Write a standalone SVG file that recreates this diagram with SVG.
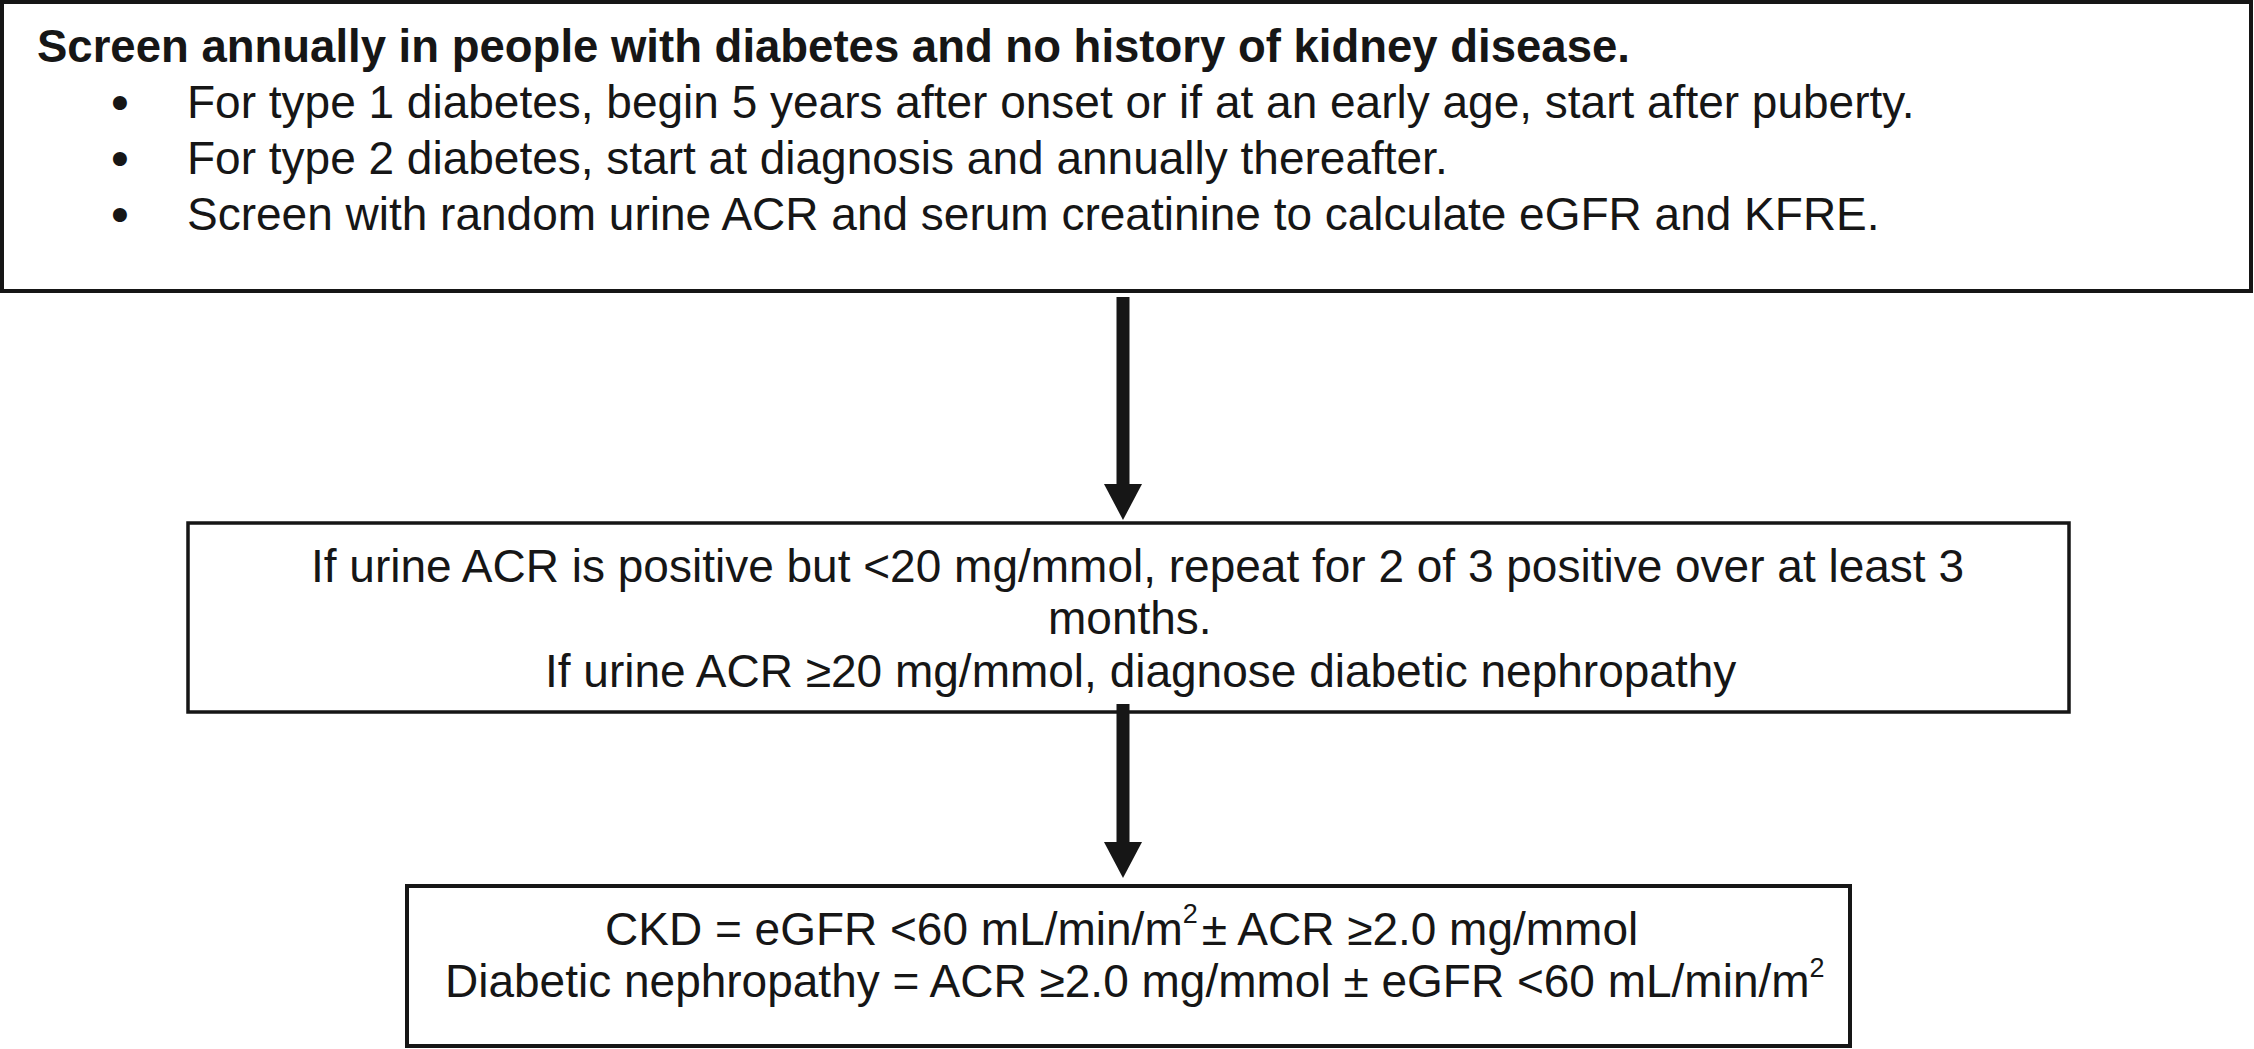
<svg xmlns="http://www.w3.org/2000/svg" width="2254" height="1049" viewBox="0 0 2254 1049">
<style>
.box{fill:#ffffff;stroke:#161616;stroke-width:4}
.t{font-family:"Liberation Sans",Arial,sans-serif;font-size:46px;fill:#161616}
.b{font-weight:bold;font-size:45.5px}
.bul{font-family:"DejaVu Sans",sans-serif;font-size:48px}
.sup{font-size:27px}
.conn{stroke:#161616;stroke-width:13;fill:none}
</style>
<defs>
<marker id="ah" markerUnits="userSpaceOnUse" markerWidth="38" markerHeight="38" refX="0" refY="19" orient="auto" viewBox="0 0 38 38">
<path d="M0,0 L36,19 L0,38 Z" fill="#161616"/>
</marker>
</defs>
<rect x="0" y="0" width="2254" height="1049" fill="#ffffff"/>
<g id="node-screen">
<rect class="box" x="2" y="2" width="2249" height="289"/>
<text class="t b" x="37" y="62">Screen annually in people with diabetes and no history of kidney disease.</text>
<text class="t bul" x="120" y="121" text-anchor="middle">•</text>
<text class="t" x="187" y="118">For type 1 diabetes, begin 5 years after onset or if at an early age, start after puberty.</text>
<text class="t bul" x="120" y="177" text-anchor="middle">•</text>
<text class="t" x="187" y="174">For type 2 diabetes, start at diagnosis and annually thereafter.</text>
<text class="t bul" x="120" y="233" text-anchor="middle">•</text>
<text class="t" x="187" y="230">Screen with random urine ACR and serum creatinine to calculate eGFR and KFRE.</text>
</g>
<g id="node-acr">
<rect class="box" x="188" y="523" width="1881" height="189" style="stroke-width:3.5"/>
<text class="t" x="311" y="582">If urine ACR is positive but &lt;20 mg/mmol, repeat for 2 of 3 positive over at least 3</text>
<text class="t" x="1048" y="634">months.</text>
<text class="t" x="545" y="687">If urine ACR ≥20 mg/mmol, diagnose diabetic nephropathy</text>
</g>
<g id="node-ckd">
<rect class="box" x="407" y="886" width="1443" height="160"/>
<text class="t" x="605" y="945">CKD = eGFR &lt;60 mL/min/m<tspan class="sup" dy="-22">2</tspan><tspan dy="22" dx="4">± ACR ≥2.0 mg/mmol</tspan></text>
<text class="t" x="445" y="997">Diabetic nephropathy = ACR ≥2.0 mg/mmol ± eGFR &lt;60 mL/min/m<tspan class="sup" dy="-20">2</tspan></text>
</g>
<g id="connectors">
<line class="conn" x1="1123" y1="297" x2="1123" y2="484" marker-end="url(#ah)"/>
<line class="conn" x1="1123" y1="704" x2="1123" y2="842" marker-end="url(#ah)"/>
</g>
</svg>
